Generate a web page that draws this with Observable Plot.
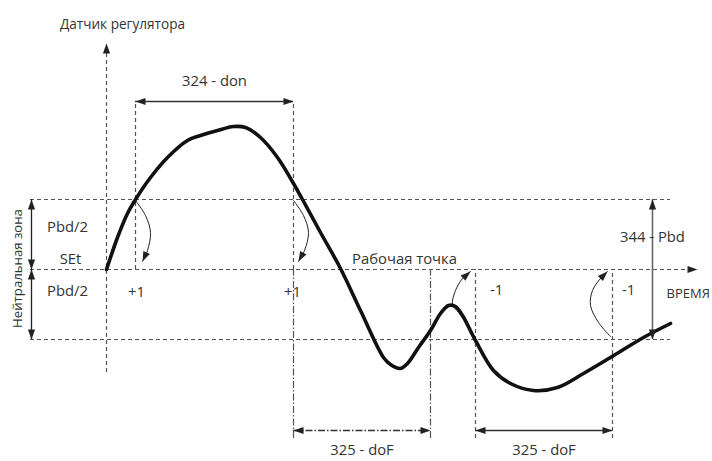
<!DOCTYPE html>
<html><head><meta charset="utf-8">
<script src="https://cdn.jsdelivr.net/npm/d3@7"></script>
<script src="https://cdn.jsdelivr.net/npm/@observablehq/plot@0.6"></script>
<style>body{margin:0;background:#fff} svg{display:block}</style>
</head><body><div id="chart"></div>
<script>
// Control curve: time t and sensor value v (SEt = 0, Pbd/2 = 70)
const curveT = [0,11,21,29,44,61,81,94,111,127,139,154,171,187,196,214,234,254,277,284,294,301,312,324,334,342,349,356,369,387,404,427,451,477,504,537,564];
const curveV = [0,32,56,70,92,112,129,134,139,143,142,132,112,86,70,37,1,-41,-88,-95,-99,-94,-78,-61,-44,-36,-37,-46,-71,-101,-114,-121,-118,-104,-88,-68,-54];

// Levels: Pbd/2 above, SEt, Pbd/2 below
const levelV = [70, 0, -70];
const levelStart = -76;
const levelEnd = [564, 585, 564];

// Time markers (switch moments)
const upperMarkT = [29, 187];            // dashed, SEt -> 324-don line
const lowerMarkT = [187, 324, 369, 506]; // below SEt
const lowerMarkDash = ["dashdot", "dashdot", "dash", "dash"];
const markTop = 168, markBottom = -169;

// Dimension arrows
const dimLabel = ["324 - don", "325 - doF", "325 - doF"];
const dimT1 = [29, 187, 369];
const dimT2 = [187, 324, 506];
const dimV = [168, -161, -161];
const dimDash = ["solid", "dashdot", "solid"];

// Curved switching arrows
const bendT = [[29,39,44,41,36],[187,197,202,198,192],[360,352,346,349,356,364],[504,492,484,486,494,501]];
const bendV = [[69,54,37,19,8],[69,54,37,19,8],[-54,-43,-35,-21,-9,-2],[-67,-53,-36,-21,-9,-2]];

// Axis extents
const axisTop = 226, axisBottom = -103, timeEnd = 591;
const zoneT = -75, pbdT = 546;

// Labels
const labelText = ["Pbd/2", "SEt", "Pbd/2", "+1", "+1", "Рабочая точка", "-1", "-1"];
const labelT = [-39, -36, -39, 30, 186, 298, 390, 522];
const labelV = [42, 10, -22, -23, -23, 10, -21, -21];
const pbdLabel = "344 - Pbd", pbdLabelV = 32;

const dashes = {dash: "4,3", dashdot: "7,2,1.5,2", solid: null};

const hLines = levelV.map((v, i) => ({v, x1: levelStart, x2: levelEnd[i]}));
const upperMarks = upperMarkT.map(t => ({t, y1: 0, y2: markTop}));
const lowerMarks = lowerMarkT.map((t, i) => ({t, y1: markBottom, y2: 0, d: lowerMarkDash[i]}));
const dims = dimLabel.map((label, i) => ({label, t1: dimT1[i], t2: dimT2[i], v: dimV[i], d: dimDash[i]}));
const curve = curveT.map((t, i) => ({t, v: curveV[i]}));
const bends = bendT.flatMap((ts, k) => ts.map((t, i) => ({k, t, v: bendV[k][i]})));
const labels = labelText.map((text, i) => ({text, t: labelT[i], v: labelV[i]}));

const heads = [];
heads.push({t: 0, v: axisTop, a: 0});
heads.push({t: timeEnd, v: 0, a: 90});
dims.forEach(d => { heads.push({t: d.t1, v: d.v, a: 270}); heads.push({t: d.t2, v: d.v, a: 90}); });
heads.push({t: zoneT, v: levelV[0], a: 0}, {t: zoneT, v: 0, a: 180}, {t: zoneT, v: 0, a: 0}, {t: zoneT, v: levelV[2], a: 180});
heads.push({t: pbdT, v: levelV[0], a: 0}, {t: pbdT, v: levelV[2], a: 180});
bendT.forEach((ts, k) => {
  const n = ts.length, vs = bendV[k];
  const a = Math.atan2(ts[n-1] - ts[n-2], vs[n-1] - vs[n-2]) * 180 / Math.PI;
  heads.push({t: ts[n-1], v: vs[n-1], a});
});

const headShape = {draw(ctx, l, r) { ctx.moveTo(0, -l); ctx.lineTo(r, 0); ctx.lineTo(-r, 0); ctx.closePath(); }};

const font = "'Open Sans', sans-serif";
const textColor = "#333";
const dashColor = "#555";
const fs = 14.8;

const chart = Plot.plot({
  width: 712, height: 461,
  margin: 0,
  style: {fontFamily: font, background: "#fff"},
  x: {domain: [-106, 606], range: [0, 712], axis: null},
  y: {domain: [-192, 269], range: [461, 0], axis: null},
  marks: [
    Plot.ruleY(hLines, {y: "v", x1: "x1", x2: "x2", stroke: dashColor, strokeWidth: 1.2, strokeDasharray: dashes.dash}),
    Plot.ruleX([0], {x: d => d, y1: axisBottom, y2: axisTop - 4, stroke: dashColor, strokeWidth: 1.2, strokeDasharray: dashes.dash}),
    Plot.ruleX(upperMarks, {x: "t", y1: "y1", y2: "y2", stroke: dashColor, strokeWidth: 1.2, strokeDasharray: dashes.dash}),
    Plot.ruleX(lowerMarks.filter(d => d.d === "dash"), {x: "t", y1: "y1", y2: "y2", stroke: dashColor, strokeWidth: 1.2, strokeDasharray: dashes.dash}),
    Plot.ruleX(lowerMarks.filter(d => d.d === "dashdot"), {x: "t", y1: "y1", y2: "y2", stroke: dashColor, strokeWidth: 1.2, strokeDasharray: dashes.dashdot}),
    Plot.ruleY(dims.filter(d => d.d === "solid"), {y: "v", x1: "t1", x2: "t2", stroke: "#333", strokeWidth: 1.3}),
    Plot.ruleY(dims.filter(d => d.d === "dashdot"), {y: "v", x1: "t1", x2: "t2", stroke: "#333", strokeWidth: 1.3, strokeDasharray: dashes.dashdot}),
    Plot.ruleX([zoneT], {x: d => d, y1: levelV[2], y2: levelV[0], stroke: "#222", strokeWidth: 1.3}),
    Plot.ruleX([pbdT], {x: d => d, y1: levelV[2], y2: levelV[0], stroke: "#666", strokeWidth: 1.6}),
    Plot.text([pbdLabel], {x: pbdT, y: pbdLabelV, text: d => d, fontSize: fs, fill: textColor}),
    Plot.line(bends, {x: "t", y: "v", z: "k", curve: "catmull-rom", stroke: "#222", strokeWidth: 1}),
    Plot.line(curve, {x: "t", y: "v", curve: "catmull-rom", stroke: "#111", strokeWidth: 3.6, strokeLinejoin: "round", strokeLinecap: "round"}),
    Plot.vector(heads, {x: "t", y: "v", rotate: "a", length: 10, r: 3.6, shape: headShape, anchor: "end", fill: "#222", stroke: "none"}),
    Plot.text(labels, {x: "t", y: "v", text: "text", fontSize: fs, fill: textColor}),
    Plot.text(dims.filter(d => d.v > 0), {x: d => (d.t1 + d.t2) / 2, y: "v", text: "label", fontSize: fs, fill: textColor, dy: -20}),
    Plot.text(dims.filter(d => d.v < 0), {x: d => (d.t1 + d.t2) / 2, y: "v", text: "label", fontSize: fs, fill: textColor, dy: 20}),
    Plot.text(["Датчик регулятора"], {x: 16, y: 245, text: d => d, fontSize: 13.6, fill: textColor}),
    Plot.text(["ВРЕМЯ"], {x: 560, y: -24, text: d => d, fontSize: 13, fill: textColor, textAnchor: "start"}),
    Plot.text(["Нейтральная зона"], {x: -89, y: 1, text: d => d, fontSize: 13.2, fill: textColor, rotate: -90})
  ]
});
document.getElementById("chart").appendChild(chart);
</script>
</body></html>
